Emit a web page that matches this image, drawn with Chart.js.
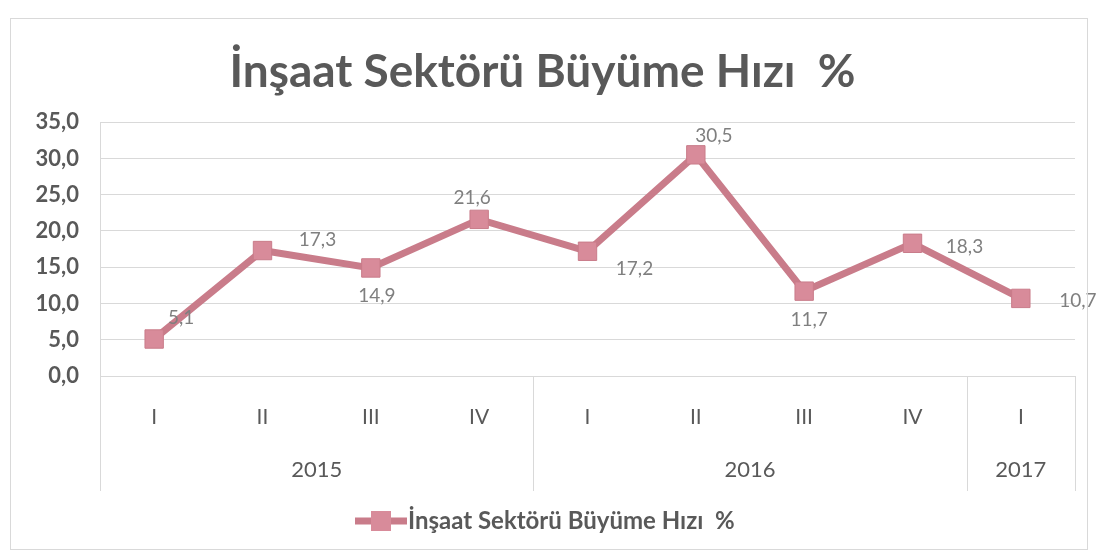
<!DOCTYPE html>
<html>
<head>
<meta charset="utf-8">
<script src="https://cdn.jsdelivr.net/npm/chart.js@4"></script>
<style>
  html, body { margin: 0; padding: 0; background: #fff; }
  #wrap { position: relative; width: 1098px; height: 555px; }
  #frame { position: absolute; left: 10px; top: 18px; width: 1078px; height: 532px; border: 1px solid #d9d9d9; box-sizing: border-box; pointer-events: none; }
</style>
</head>
<body>
<div id="wrap">
  <canvas id="myChart" width="1098" height="555"></canvas>
  <div id="frame"></div>
</div>
<script>
// Construction sector growth rate, quarterly
const quarters = ['I', 'II', 'III', 'IV', 'I', 'II', 'III', 'IV', 'I'];
const years = ['2015', '2016', '2017'];
const yearSpans = [4, 4, 1];
const growth = [5.1, 17.3, 14.9, 21.6, 17.2, 30.5, 11.7, 18.3, 10.7];
const seriesName = 'İnşaat Sektörü Büyüme Hızı  %';

// where each value label sits relative to its marker
const labelOffsets = [[27, -21], [55, -11], [6, 28], [-7, -21], [47, 18], [18, -19], [5, 29], [52, 4], [57, 2]];

const fontFamily = 'Lato, "Open Sans", sans-serif';
const gray = '#595959';
const lineColor = '#c97c8a';
const markerColor = '#d88b9a';

const fmt = v => v.toFixed(1).replace('.', ',');

const extras = {
  id: 'extras',
  afterDatasetsDraw(chart) {
    const ctx = chart.ctx;
    const meta = chart.getDatasetMeta(0);
    ctx.save();
    ctx.font = '19px ' + fontFamily;
    ctx.fillStyle = '#7f7f7f';
    ctx.textAlign = 'center';
    ctx.textBaseline = 'middle';
    meta.data.forEach((pt, i) => {
      const off = labelOffsets[i];
      ctx.fillText(fmt(growth[i]), pt.x + off[0], pt.y + off[1]);
    });
    ctx.restore();
  },
  afterDraw(chart) {
    const ctx = chart.ctx;
    const x = chart.scales.x;
    const area = chart.chartArea;
    const step = x.getPixelForValue(1) - x.getPixelForValue(0);
    ctx.save();
    ctx.strokeStyle = '#d9d9d9';
    ctx.lineWidth = 1;
    // group separators of the two-level axis
    let idx = 0;
    const edges = [area.left];
    yearSpans.forEach(n => { idx += n; edges.push(x.getPixelForValue(idx - 1) + step / 2); });
    edges.forEach(px => {
      ctx.beginPath();
      ctx.moveTo(Math.round(px) + 0.5, area.bottom);
      ctx.lineTo(Math.round(px) + 0.5, area.bottom + 115);
      ctx.stroke();
    });
    ctx.font = '22px ' + fontFamily;
    ctx.fillStyle = gray;
    ctx.textAlign = 'center';
    ctx.textBaseline = 'middle';
    years.forEach((y, i) => {
      ctx.fillText(y, (edges[i] + edges[i + 1]) / 2, area.bottom + 94);
    });
    // legend
    const lx = 395, ly = 521;
    ctx.strokeStyle = lineColor;
    ctx.lineWidth = 7;
    ctx.beginPath();
    ctx.moveTo(lx - 40, ly);
    ctx.lineTo(lx + 12, ly);
    ctx.stroke();
    ctx.fillStyle = markerColor;
    ctx.fillRect(lx - 24, ly - 10, 20, 20);
    ctx.font = 'bold 24px ' + fontFamily;
    ctx.fillStyle = gray;
    ctx.textAlign = 'left';
    ctx.fillText(seriesName, lx + 13, ly);
    ctx.restore();
  }
};

new Chart(document.getElementById('myChart'), {
  type: 'line',
  data: {
    labels: quarters,
    datasets: [{
      label: seriesName,
      data: growth,
      borderColor: lineColor,
      borderWidth: 7,
      pointStyle: 'rect',
      pointRadius: 13,
      pointBackgroundColor: markerColor,
      pointBorderColor: lineColor,
      pointBorderWidth: 1,
      tension: 0
    }]
  },
  options: {
    responsive: false,
    animation: false,
    layout: { padding: { left: 10, right: 23, top: 0, bottom: 54 } },
    plugins: {
      legend: { display: false },
      tooltip: { enabled: false },
      title: {
        display: true,
        text: 'İnşaat Sektörü Büyüme Hızı  %',
        color: gray,
        font: { family: fontFamily, size: 46, weight: 'bold' },
        padding: { top: 45, bottom: 22 }
      }
    },
    scales: {
      x: {
        offset: true,
        grid: { display: false },
        border: { display: false },
        ticks: { color: gray, font: { family: fontFamily, size: 21 }, padding: 21 },
        afterFit: s => { s.height = 125; }
      },
      y: {
        min: 0,
        max: 35,
        ticks: {
          stepSize: 5,
          color: gray,
          padding: 21,
          font: { family: fontFamily, size: 22, weight: 'bold' },
          callback: v => fmt(v)
        },
        grid: { color: '#d9d9d9', drawTicks: false },
        border: { display: true, color: '#d9d9d9' },
        afterFit: s => { s.width = 90; }
      }
    }
  },
  plugins: [extras]
});
</script>
</body>
</html>
